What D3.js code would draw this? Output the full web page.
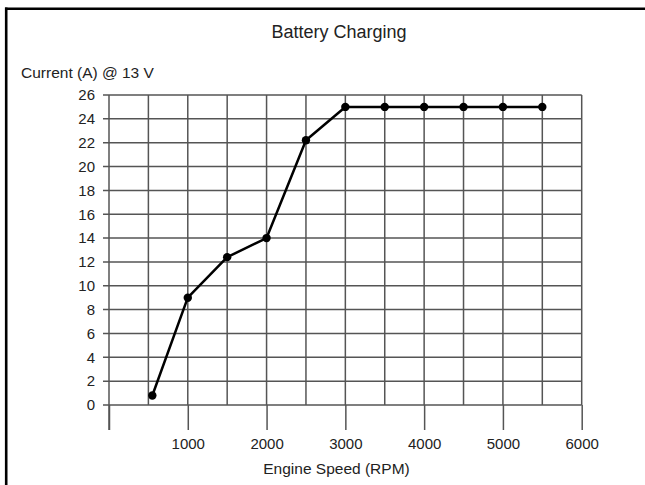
<!DOCTYPE html>
<html>
<head>
<meta charset="utf-8">
<script src="https://cdn.jsdelivr.net/npm/d3@7"></script>
<style>
body{margin:0;background:#fff;font-family:"Liberation Sans",Arial,sans-serif;}
.label{font-size:15.5px;fill:#222;}
.tick text{font-size:15px;fill:#222;}
.title{font-size:18px;fill:#222;}
</style>
</head>
<body>
<svg id="chart"></svg>
<script>
var rpm=[550,1000,1500,2000,2500,3000,3500,4000,4500,5000,5500]
var current=[0.8,9,12.4,14,22.2,25,25,25,25,25,25]
var xTicks=[0,1000,2000,3000,4000,5000,6000]
var xGrid=[500,1000,1500,2000,2500,3000,3500,4000,4500,5000,5500,6000]
var yTicks=[0,2,4,6,8,10,12,14,16,18,20,22,24,26]

var initChart=function()
    {
        var screen={width:645,height:485}
        var margins={left:109,top:95}
        var graph={width:472.7,height:310}

        var svg=d3.select("#chart")
            .attr("width",screen.width)
            .attr("height",screen.height)

        // frame: only top and left edges show in the picture
        svg.append("line")
            .attr("x1",5).attr("x2",645)
            .attr("y1",8.7).attr("y2",8.7)
            .attr("stroke","#000").attr("stroke-width",2.6)
        svg.append("line")
            .attr("x1",6.2).attr("x2",6.2)
            .attr("y1",7.4).attr("y2",485)
            .attr("stroke","#000").attr("stroke-width",2.6)

        var target=svg.append("g")
            .attr("transform","translate("+margins.left+","+margins.top+")")

        var xScale=d3.scaleLinear().domain([0,6000]).range([0,graph.width])
        var yScale=d3.scaleLinear().domain([0,26]).range([graph.height,0])

        drawGrid(target,graph,xScale,yScale)
        drawAxes(target,graph,xScale,yScale)
        drawLine(target,xScale,yScale)
        drawLabels(svg,margins,graph)
    }

var drawGrid=function(target,graph,xScale,yScale)
    {
        target.selectAll(".hgrid")
            .data(yTicks)
            .enter()
            .append("line")
            .attr("x1",-6)
            .attr("x2",graph.width)
            .attr("y1",function(d){return yScale(d)})
            .attr("y2",function(d){return yScale(d)})
            .attr("stroke","#555").attr("stroke-width",1.5)
        target.selectAll(".vgrid")
            .data(xGrid)
            .enter()
            .append("line")
            .attr("x1",function(d){return xScale(d)})
            .attr("x2",function(d){return xScale(d)})
            .attr("y1",0)
            .attr("y2",graph.height)
            .attr("stroke","#555").attr("stroke-width",1.5)
    }

var drawAxes=function(target,graph,xScale,yScale)
    {
        var xAxis=d3.axisBottom(xScale)
            .tickValues(xTicks)
            .tickSize(25)
            .tickPadding(8)
            .tickFormat(function(d){return d==0?"":d})
        var gx=target.append("g")
            .attr("transform","translate(0,"+graph.height+")")
            .call(xAxis)
        gx.attr("font-size",null).attr("font-family",null)
        gx.select(".domain").remove()
        gx.selectAll("line").attr("stroke","#555").attr("stroke-width",1.5)
        gx.selectAll("text").attr("fill",null)

        // left axis line down to tick length
        target.append("line")
            .attr("x1",0).attr("x2",0)
            .attr("y1",0).attr("y2",graph.height+25)
            .attr("stroke","#555").attr("stroke-width",1.5)

        var yAxis=d3.axisLeft(yScale)
            .tickValues(yTicks)
            .tickSize(0)
            .tickPadding(14)
        var gy=target.append("g").call(yAxis)
        gy.attr("font-size",null).attr("font-family",null)
        gy.select(".domain").remove()
        gy.selectAll("text").attr("fill",null)
    }

var drawLine=function(target,xScale,yScale)
    {
        var pts=rpm.map(function(r,i){return {x:r,y:current[i]}})
        var line=d3.line()
            .x(function(d){return xScale(d.x)})
            .y(function(d){return yScale(d.y)})
        target.append("path")
            .datum(pts)
            .attr("d",line)
            .attr("fill","none")
            .attr("stroke","#000")
            .attr("stroke-width",2.5)
            .attr("stroke-linejoin","round")
        target.selectAll(".dot")
            .data(pts)
            .enter()
            .append("circle")
            .attr("cx",function(d){return xScale(d.x)})
            .attr("cy",function(d){return yScale(d.y)})
            .attr("r",4.2)
            .attr("fill","#000")
    }

var drawLabels=function(svg,margins,graph)
    {
        svg.append("text")
            .text("Battery Charging")
            .classed("title",true)
            .attr("text-anchor","middle")
            .attr("x",339)
            .attr("y",38)
        svg.append("text")
            .text("Current (A) @ 13 V")
            .classed("label",true)
            .attr("x",21)
            .attr("y",78)
        svg.append("text")
            .text("Engine Speed (RPM)")
            .classed("label",true)
            .attr("text-anchor","middle")
            .attr("x",336.5)
            .attr("y",474)
    }

initChart()
</script>
</body>
</html>
